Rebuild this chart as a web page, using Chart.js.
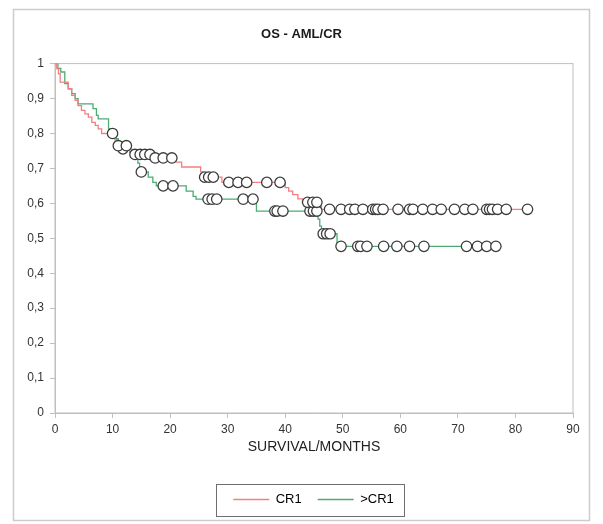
<!DOCTYPE html>
<html lang="en">
<head>
    <meta charset="UTF-8">
    <title>OS - AML/CR</title>
    <script src="https://cdn.jsdelivr.net/npm/chart.js"></script>
    <style>
        body { margin: 0; background: #fff; }
        #chart-container { width: 603px; height: 524px; }
    </style>
</head>
<body>
    <div id="chart-container">
        <canvas id="kmChart" width="603" height="524"></canvas>
    </div>

    <script>
        // Kaplan-Meier steps (months, survival after the drop)
        const cr1Times = [0, 0.3, 0.6, 0.9, 2.3, 2.9, 3.5, 4.0, 4.6, 5.2, 5.8, 6.4, 7.0, 7.5, 8.1, 10.4, 10.8, 12.9, 13.4, 17.0, 21.0, 22.0, 25.3, 25.7, 29.0, 40.0, 40.6, 41.3, 42.2, 43.0, 45.9, 46.3, 82.1];
        const cr1Surv = [1, 0.986, 0.971, 0.947, 0.928, 0.909, 0.895, 0.88, 0.866, 0.856, 0.847, 0.832, 0.823, 0.813, 0.80, 0.782, 0.765, 0.755, 0.74, 0.73, 0.718, 0.704, 0.69, 0.675, 0.66, 0.645, 0.635, 0.625, 0.613, 0.603, 0.593, 0.583, 0.583];
        const cr1Censored = [10.0, 11.0, 12.4, 13.9, 14.8, 15.6, 16.5, 17.4, 18.8, 20.3, 26.0, 26.7, 27.5, 30.2, 31.8, 33.3, 36.8, 39.1, 43.9, 44.8, 45.5, 47.7, 49.7, 51.2, 52.1, 53.5, 55.2, 55.7, 56.1, 57.0, 59.6, 61.6, 62.2, 63.9, 65.6, 67.1, 69.4, 71.2, 72.6, 75.0, 75.5, 76.0, 76.9, 78.4, 82.1];

        const gtCr1Times = [0, 0.5, 1.0, 1.7, 2.3, 2.9, 3.5, 4.0, 6.6, 7.2, 7.5, 9.3, 10.0, 10.6, 11.0, 11.5, 13.0, 14.0, 14.4, 14.7, 14.8, 16.2, 17.0, 17.6, 22.8, 24.0, 24.5, 35.0, 45.7, 46.0, 46.3, 49.0, 76.6];
        const gtCr1Surv = [1, 0.986, 0.976, 0.943, 0.928, 0.914, 0.90, 0.885, 0.871, 0.852, 0.842, 0.813, 0.80, 0.785, 0.77, 0.756, 0.745, 0.73, 0.715, 0.70, 0.69, 0.675, 0.66, 0.65, 0.635, 0.62, 0.612, 0.578, 0.555, 0.535, 0.513, 0.477, 0.477];
        const gtCr1Censored = [11.8, 15.0, 18.8, 20.5, 26.6, 27.3, 28.1, 32.7, 34.4, 38.2, 38.6, 39.6, 44.3, 44.9, 45.5, 46.6, 47.2, 47.8, 49.7, 52.6, 53.1, 54.2, 57.1, 59.4, 61.6, 64.1, 71.5, 73.4, 75.0, 76.6];

        const seriesNames = ["CR1", ">CR1"];
        const yTickLabels = ["0", "0,1", "0,2", "0,3", "0,4", "0,5", "0,6", "0,7", "0,8", "0,9", "1"];

        const RED = "#f38080";
        const GREEN = "#4dab72";
        const AXIS = "#bfbfbf";
        const FONT = "'Liberation Sans', Arial, sans-serif";

        function toPoints(times, surv) {
            return times.map((t, i) => ({ x: t, y: surv[i] }));
        }

        // censored marks sit on the curve: look up the step value at that time
        function censorPoints(times, surv, censored) {
            return censored.map(t => {
                let s = surv[0];
                for (let i = 0; i < times.length; i++) {
                    if (times[i] <= t) s = surv[i];
                }
                return { x: t, y: s };
            });
        }

        const frame = {
            id: "frame",
            beforeDraw(chart) {
                const ctx = chart.ctx;
                const a = chart.chartArea;
                ctx.save();
                ctx.strokeStyle = "#cccccc";
                ctx.lineWidth = 1.5;
                ctx.strokeRect(13.5, 9.5, 576, 511);
                ctx.strokeStyle = AXIS;
                ctx.lineWidth = 1;
                ctx.strokeRect(a.left, a.top, a.right - a.left, a.bottom - a.top);
                ctx.restore();
            },
            afterLayout(chart) {
                // title and legend are centred on the frame / plot, not the padded box
                chart.titleBlock.left += 10;
                chart.titleBlock.right += 10;
                chart.legend.left += 22;
                chart.legend.right += 22;
            },
            afterDraw(chart) {
                const hb = chart.legend.legendHitBoxes;
                if (!hb || !hb.length) return;
                const last = hb[hb.length - 1];
                const cy = hb[0].top + hb[0].height / 2;
                const ctx = chart.ctx;
                ctx.save();
                ctx.strokeStyle = "#6e6e6e";
                ctx.lineWidth = 1;
                const left = Math.round(hb[0].left - 17) + 0.5;
                const right = Math.round(last.left + last.width + 10) + 0.5;
                ctx.strokeRect(left, Math.round(cy - 16) + 0.5, right - left, 32);
                ctx.restore();
            }
        };

        function renderChart() {
            const ctx = document.getElementById("kmChart").getContext("2d");

            new Chart(ctx, {
                type: "line",
                data: {
                    datasets: [
                        {
                            label: seriesNames[0] + " censored",
                            data: censorPoints(cr1Times, cr1Surv, cr1Censored),
                            showLine: false,
                            pointRadius: 5.2,
                            pointBackgroundColor: "#ffffff",
                            pointBorderColor: "#3c3c3c",
                            pointBorderWidth: 1.3,
                            order: 0
                        },
                        {
                            label: seriesNames[1] + " censored",
                            data: censorPoints(gtCr1Times, gtCr1Surv, gtCr1Censored),
                            showLine: false,
                            pointRadius: 5.2,
                            pointBackgroundColor: "#ffffff",
                            pointBorderColor: "#3c3c3c",
                            pointBorderWidth: 1.3,
                            order: 0
                        },
                        {
                            label: seriesNames[0],
                            data: toPoints(cr1Times, cr1Surv),
                            stepped: "before",
                            borderColor: RED,
                            backgroundColor: RED,
                            borderWidth: 1.3,
                            pointRadius: 0,
                            fill: false,
                            order: 1
                        },
                        {
                            label: seriesNames[1],
                            data: toPoints(gtCr1Times, gtCr1Surv),
                            stepped: "before",
                            borderColor: GREEN,
                            backgroundColor: GREEN,
                            borderWidth: 1.3,
                            pointRadius: 0,
                            fill: false,
                            order: 1
                        }
                    ]
                },
                options: {
                    responsive: false,
                    animation: false,
                    events: [],
                    layout: { padding: { left: 10, right: 30, top: 0, bottom: 8 } },
                    plugins: {
                        title: {
                            display: true,
                            text: "OS - AML/CR",
                            color: "#1a1a1a",
                            font: { family: FONT, size: 13, weight: "bold" },
                            padding: { top: 27, bottom: 21 }
                        },
                        legend: {
                            position: "bottom",
                            labels: {
                                boxWidth: 36,
                                boxHeight: 1.5,
                                padding: 16,
                                color: "#222",
                                font: { family: FONT, size: 13 },
                                generateLabels: () => [
                                    { text: seriesNames[0], fillStyle: RED, strokeStyle: RED, lineWidth: 0, hidden: false, datasetIndex: 2 },
                                    { text: seriesNames[1], fillStyle: GREEN, strokeStyle: GREEN, lineWidth: 0, hidden: false, datasetIndex: 3 }
                                ]
                            }
                        },
                        tooltip: { enabled: false }
                    },
                    scales: {
                        x: {
                            type: "linear",
                            min: 0,
                            max: 90,
                            afterFit: s => { s.height = 64; },
                            ticks: {
                                stepSize: 10,
                                padding: 4,
                                color: "#333",
                                font: { family: FONT, size: 12 }
                            },
                            grid: { drawOnChartArea: false, tickLength: 5, color: AXIS },
                            border: { color: AXIS },
                            title: {
                                display: true,
                                text: "SURVIVAL/MONTHS",
                                color: "#222",
                                font: { family: FONT, size: 14 },
                                padding: { top: 0, bottom: 21 }
                            }
                        },
                        y: {
                            min: 0,
                            max: 1,
                            afterFit: s => { s.width = 45; },
                            ticks: {
                                stepSize: 0.1,
                                padding: 6,
                                color: "#333",
                                font: { family: FONT, size: 12 },
                                callback: (value, index) => yTickLabels[index]
                            },
                            grid: { drawOnChartArea: false, tickLength: 5, color: AXIS },
                            border: { color: AXIS }
                        }
                    }
                },
                plugins: [frame]
            });
        }

        renderChart();
    </script>
</body>
</html>
